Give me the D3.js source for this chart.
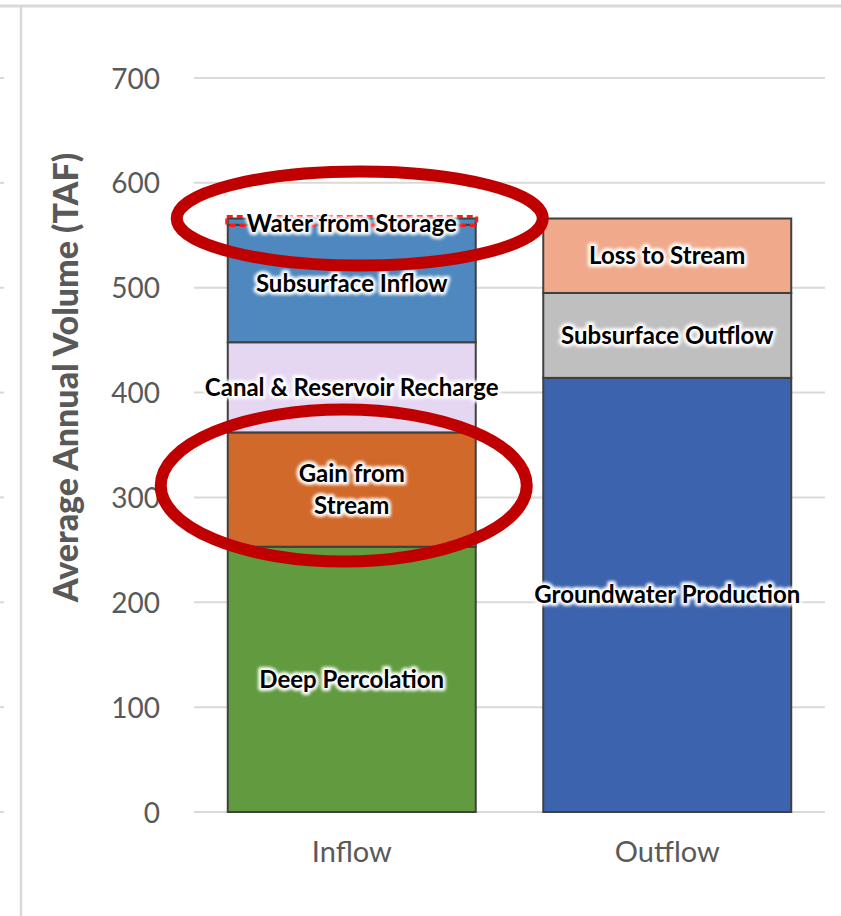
<!DOCTYPE html>
<html>
<head>
<meta charset="utf-8">
<script src="https://cdn.jsdelivr.net/npm/d3@7"></script>
<style>
  body { margin: 0; background: #fff; }
  svg { display: block; }
</style>
</head>
<body>
<svg id="chart" width="841" height="916"></svg>
<script>
// Average annual groundwater budget (TAF)
const categories = ["Inflow", "Outflow"];

const inflowComponents = ["Deep Percolation", "Gain from Stream", "Canal & Reservoir Recharge", "Subsurface Inflow", "Water from Storage"];
const inflowValues = [253, 109, 86, 112, 6];
const inflowColors = ["#619a3f", "#d1692a", "#e5d6f2", "#4e88bf", "#4e88bf"];

const outflowComponents = ["Groundwater Production", "Subsurface Outflow", "Loss to Stream"];
const outflowValues = [414, 81, 71];
const outflowColors = ["#3c63ad", "#bfbfbf", "#f0aa8b"];

const yTicks = [0, 100, 200, 300, 400, 500, 600, 700];
const yTitle = "Average Annual Volume (TAF)";

// Components called out with red ellipses
const highlighted = ["Water from Storage", "Gain from Stream"];

const svg = d3.select("#chart");
const FONT = "Lato, 'Open Sans', sans-serif";
const GRID = "#d9d9d9";
const TEXT_GRAY = "#595959";

const x = d3.scaleBand().domain(categories).range([194, 825]).paddingInner(0.214).paddingOuter(0.107);
const y = d3.scaleLinear().domain([0, 700]).range([812, 78]);

// Soft white glow behind the in-bar labels
const defs = svg.append("defs");
const glow = defs.append("filter").attr("id", "glow").attr("x", "-10%").attr("y", "-40%").attr("width", "120%").attr("height", "180%");
glow.append("feGaussianBlur").attr("stdDeviation", 1.6);

// Outer frame pieces
svg.append("line").attr("x1", 0).attr("x2", 841).attr("y1", 6).attr("y2", 6)
  .attr("stroke", GRID).attr("stroke-width", 3);
svg.append("line").attr("x1", 21).attr("x2", 21).attr("y1", 6).attr("y2", 916)
  .attr("stroke", GRID).attr("stroke-width", 2.5);
svg.append("g").selectAll("line").data(yTicks).join("line")
  .attr("x1", 0).attr("x2", 4).attr("y1", d => y(d)).attr("y2", d => y(d))
  .attr("stroke", GRID).attr("stroke-width", 2);

// Gridlines
svg.append("g").selectAll("line").data(yTicks).join("line")
  .attr("x1", 194).attr("x2", 825).attr("y1", d => y(d)).attr("y2", d => y(d))
  .attr("stroke", GRID).attr("stroke-width", 2);

// Y axis
const yAxis = svg.append("g").attr("transform", "translate(160,0)")
  .call(d3.axisLeft(y).tickValues(yTicks).tickSize(0).tickPadding(0));
yAxis.select(".domain").remove();
yAxis.selectAll("text").attr("font-family", FONT).attr("font-size", 28)
  .attr("fill", TEXT_GRAY).attr("dy", "0.36em");

svg.append("text")
  .attr("transform", `translate(78,${(150 + 605) / 2}) rotate(-90)`)
  .attr("text-anchor", "middle")
  .attr("font-family", FONT).attr("font-weight", 900).attr("font-size", 34)
  .attr("fill", TEXT_GRAY).text(yTitle);

// X axis
const xAxis = svg.append("g").attr("transform", "translate(0,812)")
  .call(d3.axisBottom(x).tickSize(0).tickPadding(33));
xAxis.select(".domain").remove();
xAxis.selectAll("text").attr("font-family", FONT).attr("font-size", 29)
  .attr("fill", TEXT_GRAY).attr("dy", "0.6em");

// Stacked segments
function stackSegments(cat, names, values, colors) {
  let base = 0;
  return names.map((n, i) => {
    const seg = { cat, name: n, y0: base, y1: base + values[i], color: colors[i] };
    base += values[i];
    return seg;
  });
}
const segments = [
  ...stackSegments("Inflow", inflowComponents, inflowValues, inflowColors),
  ...stackSegments("Outflow", outflowComponents, outflowValues, outflowColors)
];

svg.append("g").selectAll("rect").data(segments).join("rect")
  .attr("x", d => x(d.cat))
  .attr("width", x.bandwidth())
  .attr("y", d => y(d.y1))
  .attr("height", d => y(d.y0) - y(d.y1))
  .attr("fill", d => d.color)
  .attr("stroke", "#404040").attr("stroke-width", 2);

// Selection outline around the storage label
const storage = segments.find(d => d.name === "Water from Storage");
svg.append("rect")
  .attr("x", x(storage.cat) - 1).attr("width", x.bandwidth() + 2)
  .attr("y", y(storage.y1) - 2).attr("height", 9)
  .attr("fill", "none").attr("stroke", "#ff1a1a").attr("stroke-width", 3)
  .attr("stroke-dasharray", "6,4");

// Segment labels
const labelLines = { "Gain from Stream": ["Gain from", "Stream"] };
const labels = svg.append("g").attr("font-family", FONT).attr("font-weight", 700)
  .attr("font-size", 24).attr("text-anchor", "middle");

segments.forEach(d => {
  const lines = labelLines[d.name] || [d.name];
  const cx = x(d.cat) + x.bandwidth() / 2;
  const cy = y((d.y0 + d.y1) / 2) + (d.name === "Water from Storage" ? 2 : 0);
  const lh = 32;
  lines.forEach((t, i) => {
    const ty = cy + (i - (lines.length - 1) / 2) * lh;
    labels.append("text").attr("x", cx).attr("y", ty).attr("dy", "0.35em")
      .attr("fill", "none").attr("stroke", "#fff").attr("stroke-width", 6)
      .attr("stroke-linejoin", "round").attr("filter", "url(#glow)").text(t);
    labels.append("text").attr("x", cx).attr("y", ty).attr("dy", "0.35em")
      .attr("fill", "#000").text(t);
  });
});

// Red annotation ellipses
const ell = svg.append("g");
highlighted.forEach(name => {
  const d = segments.find(s => s.name === name);
  const isTop = name === "Water from Storage";
  const cx = x(d.cat) + x.bandwidth() / 2 + (isTop ? 8 : -8);
  const cy = isTop ? y(d.y1) : y((d.y0 + d.y1) / 2) - 4;
  ell.append("ellipse")
    .attr("cx", cx).attr("cy", cy)
    .attr("rx", x.bandwidth() * 0.738)
    .attr("ry", isTop ? 47 : 76)
    .attr("fill", "none").attr("stroke", "#c00000").attr("stroke-width", 12);
});
</script>
</body>
</html>
